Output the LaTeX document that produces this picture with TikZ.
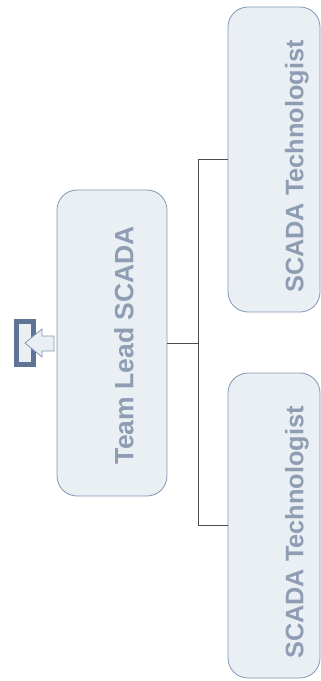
\documentclass[tikz,border=0pt]{standalone}
\usepackage{fontspec}
\setmainfont{Liberation Sans}
\usetikzlibrary{positioning}

\definecolor{boxfill}{HTML}{E9EFF3}
\definecolor{boxline}{HTML}{8297B6}
\definecolor{boxtext}{HTML}{8E9DB3}
\definecolor{iconline}{HTML}{5F7394}

\tikzset{
  orgbox/.style={draw=boxline, fill=boxfill, rounded corners=20pt, line width=0.8pt},
  orgtext/.style={rotate=90, inner sep=0pt, text=boxtext, font=\bfseries},
  link/.style={draw=black!70, line width=0.9pt}
}

\begin{document}
\begin{tikzpicture}[x=1pt, y=-1pt]
	\useasboundingbox (0,0) rectangle (321,681);
	% boxes
	\node[orgbox, minimum width=110pt, minimum height=306pt] (lead) at (112,343) {};
	\node[orgbox, minimum width=92pt, minimum height=305pt] (techA) at (274,159.5) {};
	\node[orgbox, minimum width=92pt, minimum height=305pt] (techB) at (274,525.5) {};
	\node[orgtext, font=\bfseries\fontsize{26.5}{30}\selectfont] at ([xshift=12pt, yshift=-2pt]lead.center) {Team Lead SCADA};
	\foreach \t in {techA, techB} {\node[orgtext, font=\bfseries\fontsize{25.3}{30}\selectfont] at ([xshift=23pt, yshift=-7pt]\t.center) {SCADA Technologist};};
	% links
	\draw[link] (lead.east) -- ++(31,0) coordinate (fork);
	\draw[link] (fork) |- (techA.west);
	\draw[link] (fork) |- (techB.west);
	% back icon
	\draw[iconline, fill=boxfill, line width=5pt] (16.5,321.5) rectangle (33.5,364.5);
	\draw[boxline, fill=boxfill, line width=0.8pt] (25,343) -- (42,329) -- (42,336) -- (54,336) -- (54,351) -- (42,351) -- (42,357) -- cycle;
\end{tikzpicture}
\end{document}
